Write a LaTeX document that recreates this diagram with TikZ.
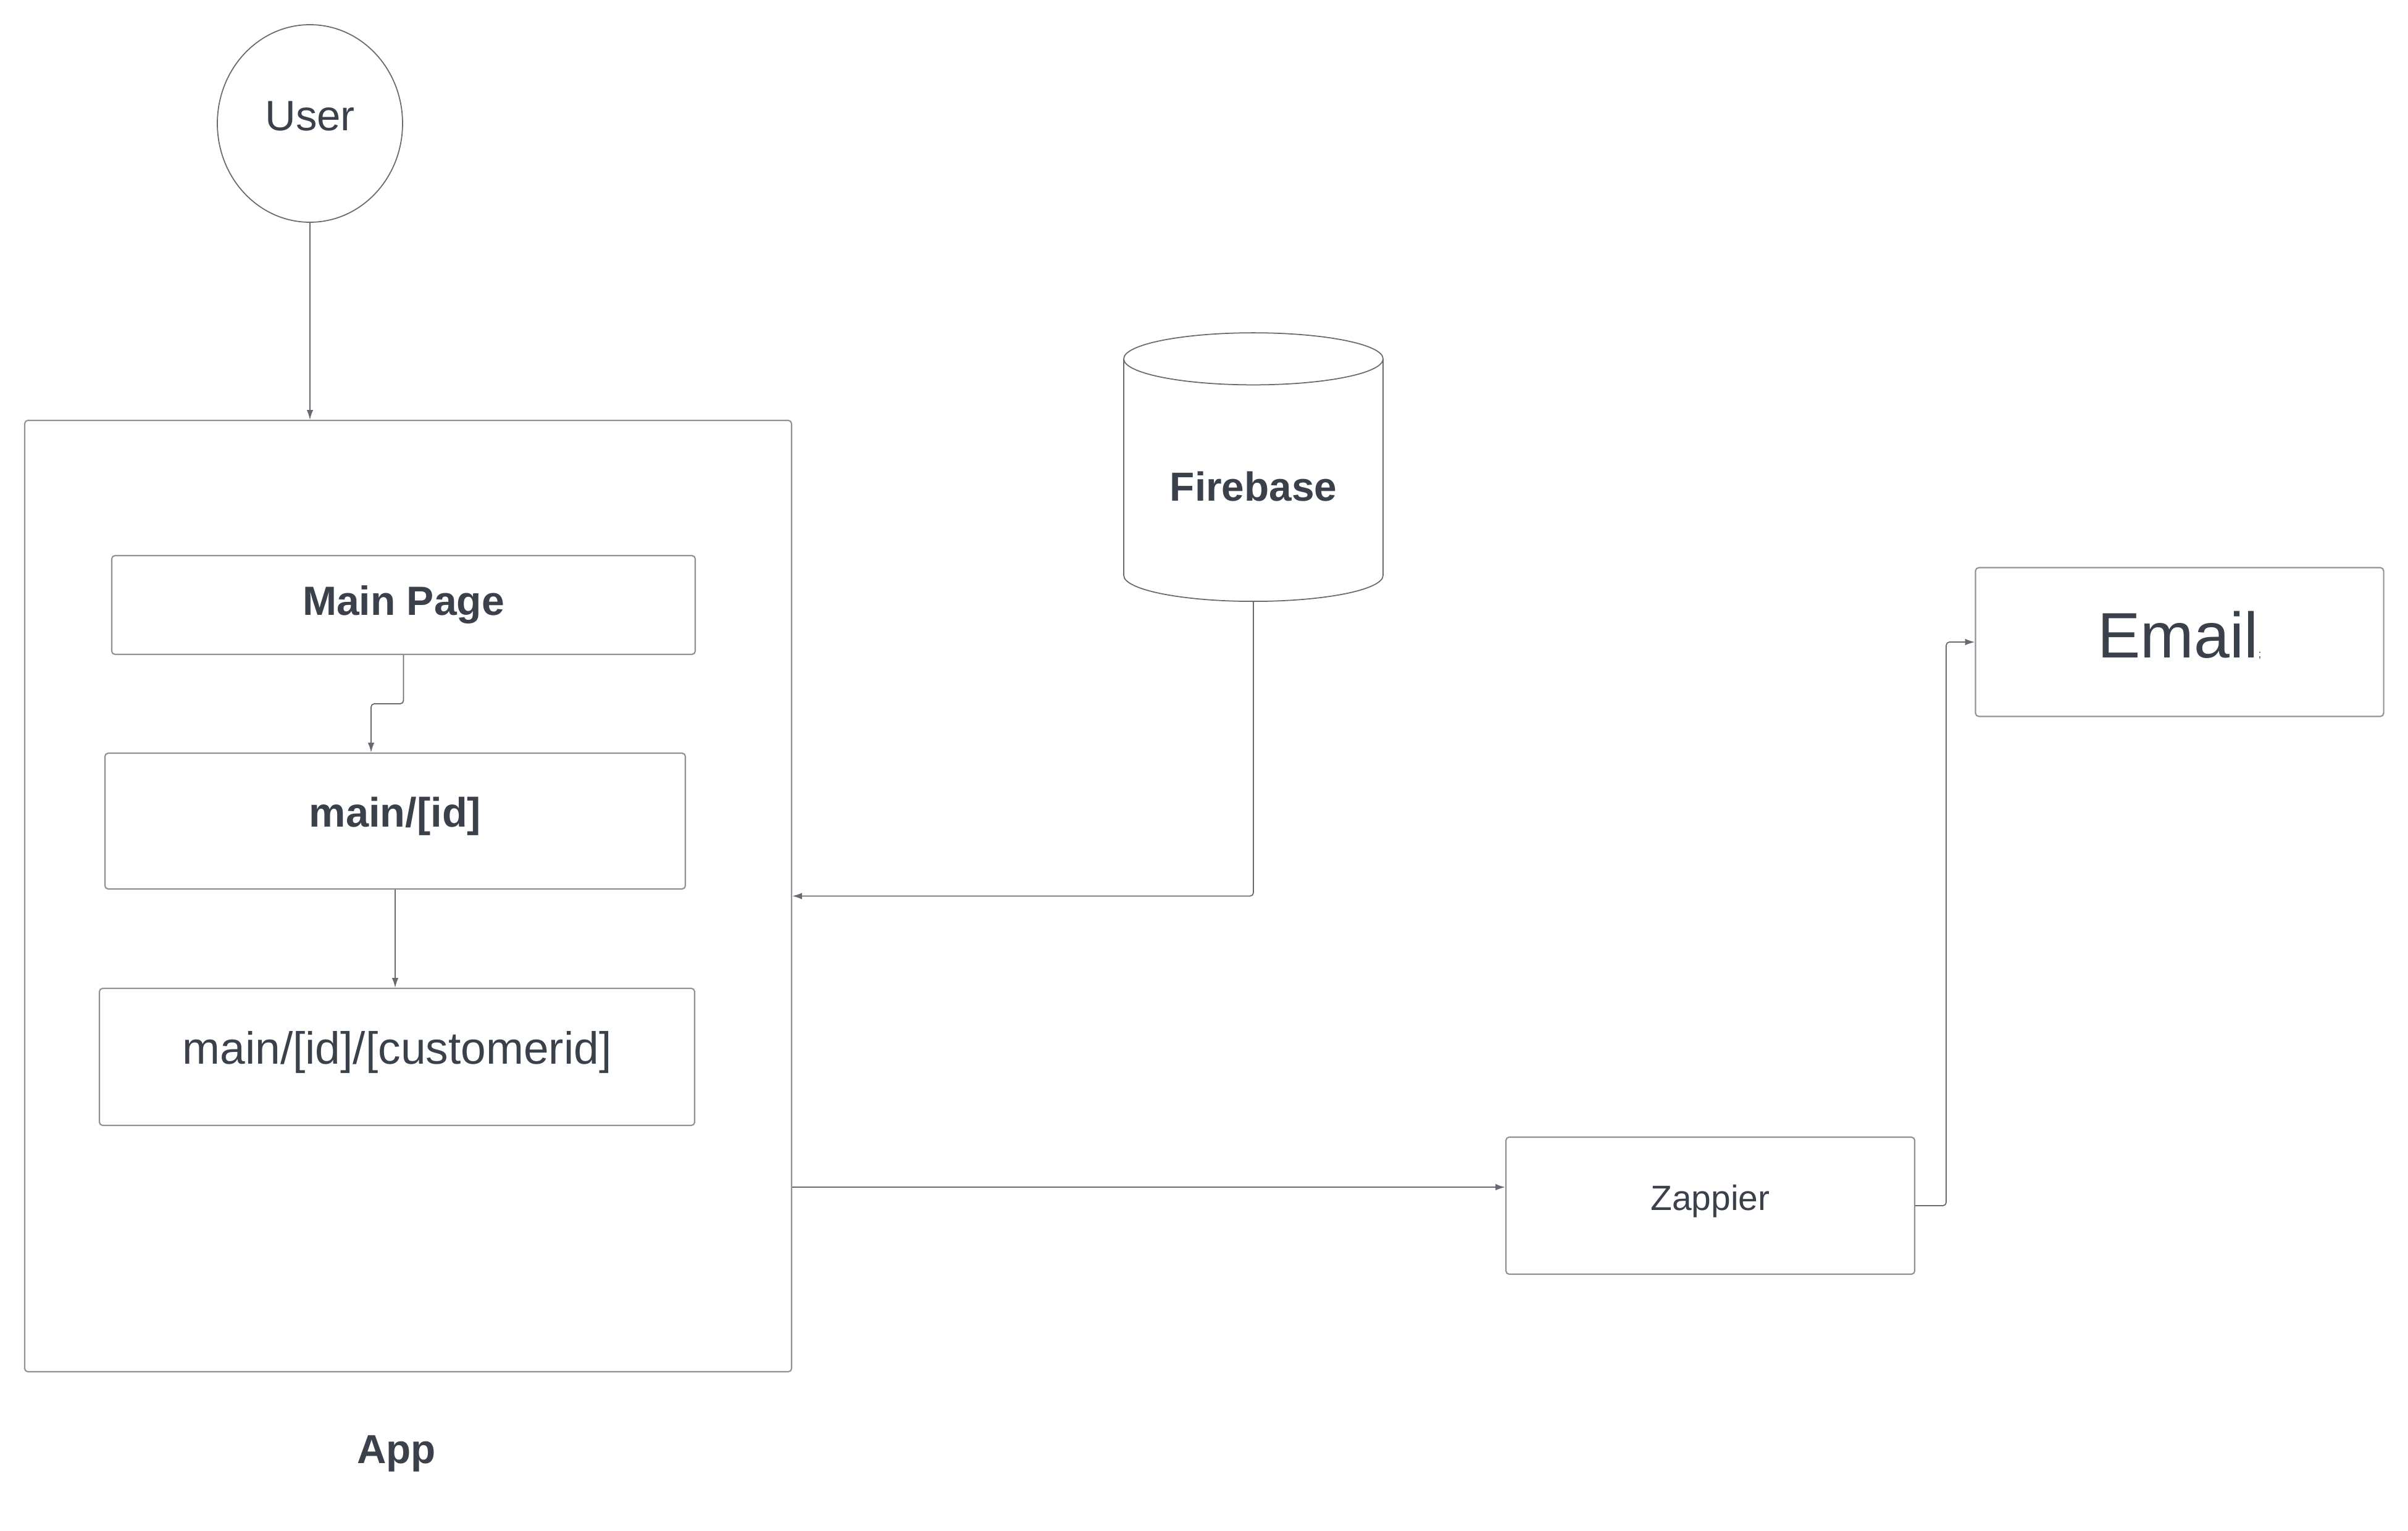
\documentclass[tikz,border=0pt]{standalone}
\usepackage{fontspec}
\setmainfont{Liberation Sans}
\usetikzlibrary{shapes.geometric,arrows.meta}
\definecolor{textgray}{HTML}{3A414A}
\definecolor{boxgray}{HTML}{8E9298}
\definecolor{linegray}{HTML}{666B72}

\begin{document}
\begin{tikzpicture}[
  box/.style={draw=boxgray, line width=0.6pt, rounded corners=1.5pt, text=textgray, inner sep=0pt},
  link/.style={draw=linegray, line width=0.5pt, rounded corners=1.5pt, -{Latex[length=4.5pt,width=3pt]}},
  txt/.style={text=textgray, inner sep=0pt}
]
\useasboundingbox (0,0) rectangle (39,-24.8);

\node[ellipse, draw=linegray, line width=0.5pt, minimum width=3.0cm, minimum height=3.2cm, text=textgray, text depth=0.25cm, font=\fontsize{19.6}{24}\selectfont] (user) at (5.02,-2.00) {User};

\node[box, minimum width=12.42cm, minimum height=15.41cm] (app) at (6.61,-14.515) {};
\node[txt, font=\bfseries\fontsize{18.7}{22}\selectfont] (applabel) at (6.42,-23.55) {App};

\node[box, minimum width=9.45cm, minimum height=1.60cm, font=\bfseries\fontsize{18.8}{22}\selectfont] (mainpage) at (6.535,-9.80) {Main Page};
\node[box, minimum width=9.40cm, minimum height=2.20cm, text depth=0.29cm, font=\bfseries\fontsize{19}{22}\selectfont] (mainid) at (6.40,-13.30) {main/[id]};
\node[box, minimum width=9.64cm, minimum height=2.22cm, text depth=0.30cm, font=\fontsize{20.8}{24}\selectfont] (custid) at (6.43,-17.12) {main/[id]/[customerid]};

\node[cylinder, shape border rotate=90, aspect=0.287, draw=linegray, line width=0.5pt, minimum width=4.20cm, minimum height=4.35cm, text height=0.53cm, text=textgray, font=\bfseries\fontsize{18.7}{22}\selectfont, anchor=south] (firebase) at (20.30,-9.75) {Firebase};

\node[box, minimum width=6.62cm, minimum height=2.22cm, text depth=0.27cm, font=\fontsize{16.2}{20}\selectfont] (zap) at (27.70,-19.53) {Zappier};
\node[box, minimum width=6.61cm, minimum height=2.41cm, text depth=0.25cm, font=\fontsize{29.6}{34}\selectfont] (email) at (35.30,-10.40) {Email{\fontsize{5}{6}\selectfont;}};

% connectors
\coordinate (jog) at (6.01,-11.40);
\draw[link] (user) -- (user |- app.north);
\draw[link] (mainpage.south) |- (jog) -- (jog |- mainid.north);
\draw[link] (mainid.south) -- (mainid.south |- custid.north);
\draw[link] (firebase.south) |- (app.east);
\draw[link] (app.east |- 0,-19.23) -- (zap.west |- 0,-19.23);
\draw[link] (zap.east) -- ++(0.5,0) |- (email.west);

\end{tikzpicture}
\end{document}
